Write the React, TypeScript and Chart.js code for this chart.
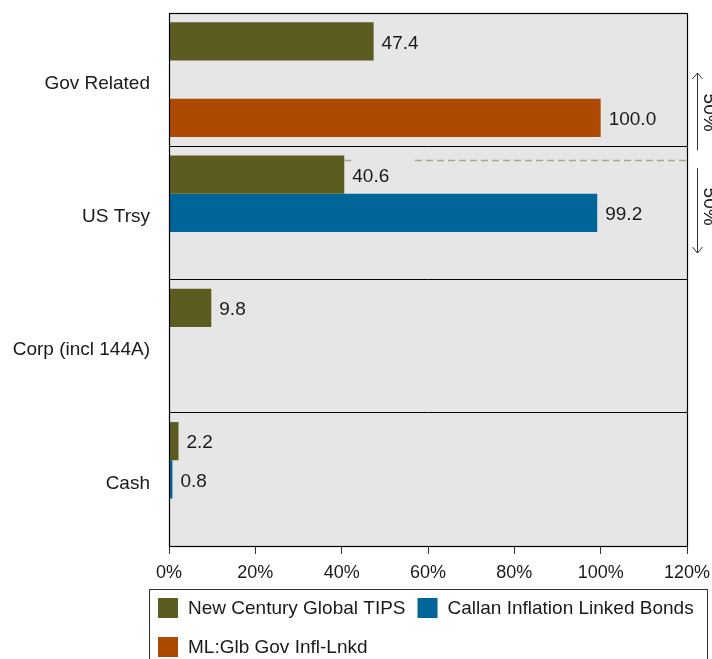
import React, { useEffect, useRef } from 'react';
import { Chart, registerables } from 'chart.js';

Chart.register(...registerables);

const categories = ['Gov Related', 'US Trsy', 'Corp (incl 144A)', 'Cash'];
const seriesNames = ['New Century Global TIPS', 'Callan Inflation Linked Bonds', 'ML:Glb Gov Infl-Lnkd'];
const newCenturyValues = [47.4, 40.6, 9.8, 2.2];
const callanValues = [null, 99.2, null, 0.8];
const mlValues = [100.0, null, null, null];
const seriesColors = ['#5C5C20', '#006699', '#AD4900'];
const xMin = 0;
const xMax = 120;
const xStep = 20;
const bracketLabels = ['50%', '50%'];
// dashed reference line (in data units): from, gap start, gap end, to
const dashedLineX = [40.6, 43, 57, 120];
const dashedLineCat = 0.6;

const FONT = '"Liberation Sans", Arial, Helvetica, sans-serif';
const TEXT = '#1a1a1a';

const decorPlugin = {
  id: 'decor',
  beforeDraw(chart: any) {
    const { ctx, chartArea: a } = chart;
    ctx.save();
    ctx.fillStyle = '#E6E6E6';
    ctx.fillRect(a.left, a.top, a.right - a.left, a.bottom - a.top);
    ctx.restore();
  },
  afterDatasetsDraw(chart: any) {
    const { ctx } = chart;
    ctx.save();
    ctx.font = `19px ${FONT}`;
    ctx.fillStyle = TEXT;
    ctx.textBaseline = 'middle';
    ctx.textAlign = 'left';
    chart.data.datasets.forEach((ds: any, di: number) => {
      const meta = chart.getDatasetMeta(di);
      meta.data.forEach((el: any, i: number) => {
        const v = ds.data[i];
        if (v === null || v === undefined) return;
        ctx.fillText(v.toFixed(1), el.x + 8, el.y + 2);
      });
    });
    ctx.restore();
  },
  afterDraw(chart: any) {
    const { ctx, chartArea: a } = chart;
    const xs = chart.scales.x;
    const ys = chart.scales.y;
    ctx.save();
    // plot border
    ctx.strokeStyle = '#000';
    ctx.lineWidth = 1.2;
    ctx.strokeRect(Math.round(a.left) + 0.5, Math.round(a.top) + 0.5, Math.round(a.right - a.left), Math.round(a.bottom - a.top));

    // dashed line
    const dy = Math.round(ys.getPixelForValue(dashedLineCat)) + 0.5;
    ctx.strokeStyle = '#A6A68C';
    ctx.lineWidth = 1.6;
    ctx.setLineDash([7, 4]);
    ctx.beginPath();
    ctx.moveTo(xs.getPixelForValue(dashedLineX[0]), dy);
    ctx.lineTo(xs.getPixelForValue(dashedLineX[1]), dy);
    ctx.moveTo(xs.getPixelForValue(dashedLineX[2]), dy);
    ctx.lineTo(xs.getPixelForValue(dashedLineX[3]), dy);
    ctx.stroke();
    ctx.setLineDash([]);

    // brackets with arrows
    const ax = Math.round(a.right) + 10.5;
    const top1 = a.top + 60;
    const bot1 = ys.getPixelForValue(0.5) + 4;
    const top2 = ys.getPixelForValue(0.5) + 22;
    const bot2 = a.top + 240;
    ctx.strokeStyle = '#333';
    ctx.lineWidth = 1;
    ctx.beginPath();
    ctx.moveTo(ax, top1);
    ctx.lineTo(ax, bot1);
    ctx.moveTo(ax - 5, top1 + 6);
    ctx.lineTo(ax, top1);
    ctx.lineTo(ax + 5, top1 + 6);
    ctx.moveTo(ax, top2);
    ctx.lineTo(ax, bot2);
    ctx.moveTo(ax - 5, bot2 - 6);
    ctx.lineTo(ax, bot2);
    ctx.lineTo(ax + 5, bot2 - 6);
    ctx.stroke();

    ctx.font = `19px ${FONT}`;
    ctx.fillStyle = TEXT;
    ctx.textAlign = 'center';
    ctx.textBaseline = 'alphabetic';
    const centers = [(top1 + bot1) / 2 + 1, (top2 + bot2) / 2 - 4];
    centers.forEach((cy, i) => {
      ctx.save();
      ctx.translate(a.right + 17, cy);
      ctx.rotate(Math.PI / 2);
      ctx.fillText(bracketLabels[i], 0, 0);
      ctx.restore();
    });

    // legend
    const lx = 149.5;
    const ly = 589.5;
    const lw = 558;
    ctx.strokeStyle = '#333';
    ctx.lineWidth = 1;
    ctx.strokeRect(lx, ly, lw, 120);
    ctx.font = `19px ${FONT}`;
    ctx.textAlign = 'left';
    ctx.textBaseline = 'middle';
    let cx = 158;
    let cy = 598;
    chart.data.datasets.forEach((ds: any) => {
      const tw = ctx.measureText(ds.label).width;
      if (cx + 30 + tw > lx + lw) {
        cx = 158;
        cy += 39;
      }
      ctx.fillStyle = ds.backgroundColor;
      ctx.fillRect(cx, cy, 20, 20);
      ctx.fillStyle = TEXT;
      ctx.fillText(ds.label, cx + 30, cy + 11);
      cx += 30 + tw + 12;
    });
    ctx.restore();
  },
};

export default function App() {
  const ref = useRef<HTMLCanvasElement>(null);
  useEffect(() => {
    if (!ref.current) return;
    const chart = new Chart(ref.current, {
      type: 'bar',
      data: {
        labels: categories,
        datasets: [
          { label: seriesNames[0], data: newCenturyValues, backgroundColor: seriesColors[0] },
          { label: seriesNames[1], data: callanValues, backgroundColor: seriesColors[1] },
          { label: seriesNames[2], data: mlValues, backgroundColor: seriesColors[2] },
        ] as any,
      },
      options: {
        indexAxis: 'y',
        responsive: false,
        animation: false,
        devicePixelRatio: 1,
        layout: { padding: { top: 13, bottom: 73, right: 25, left: 0 } },
        datasets: { bar: { barPercentage: 1, categoryPercentage: 0.86, borderWidth: 0 } },
        plugins: { legend: { display: false }, tooltip: { enabled: false } },
        scales: {
          x: {
            type: 'linear',
            min: xMin,
            max: xMax,
            afterFit: (s: any) => {
              s.height = 40;
              s.paddingLeft = 0;
              s.paddingRight = 0;
            },
            ticks: {
              stepSize: xStep,
              padding: 8,
              color: TEXT,
              font: { family: FONT, size: 18 },
              callback: (v: any) => `${v}%`,
            },
            grid: { drawOnChartArea: false, drawTicks: true, tickLength: 8, color: '#333' },
            border: { display: true, color: '#000' },
          },
          y: {
            type: 'category',
            afterFit: (s: any) => {
              s.width = 169;
              s.paddingTop = 0;
              s.paddingBottom = 0;
            },
            ticks: {
              padding: 19,
              labelOffset: 4,
              color: TEXT,
              font: { family: FONT, size: 19 },
            },
            grid: { offset: true, drawTicks: false, color: '#000', lineWidth: 1 },
            border: { display: true, color: '#000' },
          },
        },
      },
      plugins: [decorPlugin],
    });
    return () => chart.destroy();
  }, []);
  return (
    <div style={{ position: 'fixed', left: 0, top: 0, width: 712, height: 659, background: '#fff' }}>
      <canvas ref={ref} width={712} height={659} style={{ display: 'block', width: 712, height: 659 }} />
    </div>
  );
}
